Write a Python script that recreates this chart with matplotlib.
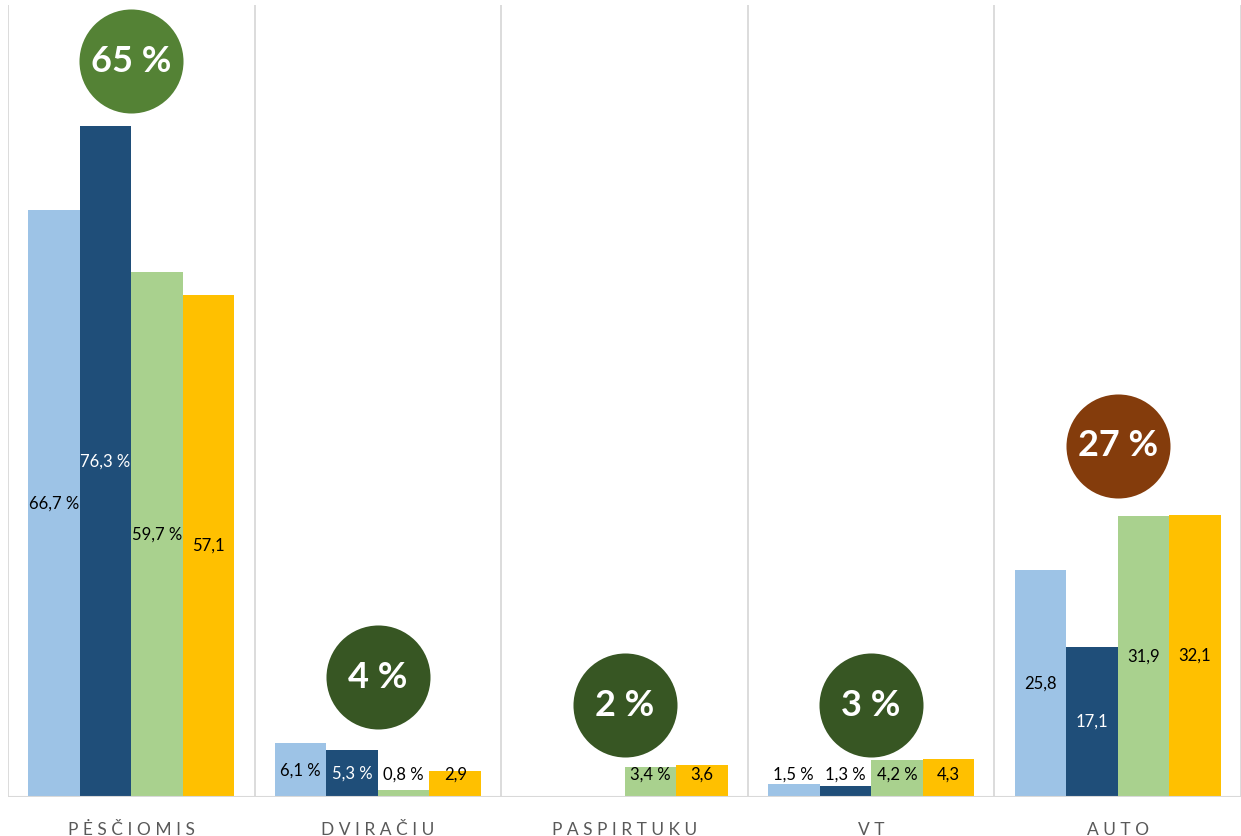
import numpy as np
import matplotlib
matplotlib.use("Agg")
import matplotlib.pyplot as plt

plt.rcParams['font.family'] = ['Lato', 'DejaVu Sans']

categories = ["PĖSČIOMIS", "DVIRAČIU", "PASPIRTUKU", "VT", "AUTO"]
series1 = [66.7, 6.1, np.nan, 1.5, 25.8]
series2 = [76.3, 5.3, np.nan, 1.3, 17.1]
series3 = [59.7, 0.8, 3.4, 4.2, 31.9]
series4 = [57.1, 2.9, 3.6, 4.3, 32.1]
series = [series1, series2, series3, series4]
# whether a data label carries the " %" sign (per series, per category)
pct_sign = [
    [True, True, True, True, False],
    [True, True, True, True, False],
    [True, True, True, True, False],
    [False, False, False, False, False],
]
colors = ["#9DC3E6", "#1F4E79", "#A9D18E", "#FFC000"]
label_colors = ["black", "white", "black", "black"]

circle_values = [65, 4, 2, 3, 27]
circle_y = [83.6, 13.6, 10.4, 10.4, 39.9]
circle_colors = ["#548235", "#375623", "#375623", "#375623", "#843C0C"]

fig = plt.figure(figsize=(12.41, 8.36), dpi=100)
ax = fig.add_axes([8/1241, 1 - 797/836, (1241-8)/1241, 792/836])
ax.set_xlim(-0.5, 4.5)
ax.set_ylim(0, 90)

x = np.arange(len(categories))
w = 0.209
for i, (vals, col, lc, sig) in enumerate(zip(series, colors, label_colors, pct_sign)):
    pos = x + (i - 1.5) * w
    ax.bar(pos, vals, width=w, color=col, zorder=2)
    for p, v, sg in zip(pos, vals, sig):
        if np.isnan(v):
            continue
        ly = max(v / 2, 2.5)
        c = lc if v / 2 >= 2.5 else "black"
        txt = f"{v:.1f}".replace(".", ",") + (" %" if sg else "")
        ax.text(p, ly, txt, ha="center", va="center", fontsize=12, color=c, zorder=4)

for xi in np.arange(-0.5, 5.0, 1.0):
    ax.axvline(xi, color="#D9D9D9", lw=1.3, zorder=1)
ax.axhline(0, color="#D9D9D9", lw=1.5, zorder=3)

for xi, cy, cv, cc in zip(x, circle_y, circle_values, circle_colors):
    ax.scatter([xi], [cy], s=5610, color=cc, zorder=5, linewidths=0)
    ax.text(xi, cy, f"{cv} %", ha="center", va="center", fontsize=26,
            fontweight="bold", color="white", zorder=6)

ax.set_xticks(x)
ax.set_xticklabels([" ".join(c) for c in categories], fontsize=12.5, color="#595959")
ax.tick_params(axis="x", length=0, pad=18)
ax.set_yticks([])
for s in ax.spines.values():
    s.set_visible(False)

fig.savefig("out.png", dpi=100)
